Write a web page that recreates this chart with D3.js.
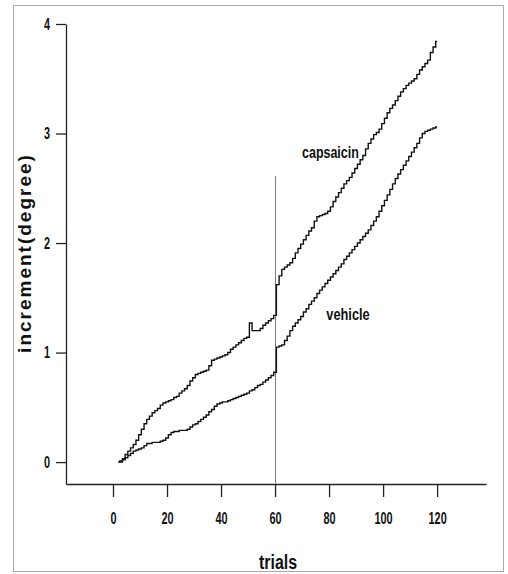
<!DOCTYPE html>
<html>
<head>
<meta charset="utf-8">
<script src="https://cdn.jsdelivr.net/npm/d3@7"></script>
<style>
  body { margin: 0; background: #fff; }
  .tick text { font-family: "Liberation Sans", Arial, sans-serif; font-weight: bold; fill: #111; }
  .lbl { font-family: "Liberation Sans", Arial, sans-serif; fill: #111; }
</style>
</head>
<body>
<svg id="chart" width="508" height="574"></svg>
<script>
// cumulative increment per trial
var trials = d3.range(2, 121);

var capsaicin = [
  0.00, 0.01, 0.03, 0.07, 0.10, 0.13, 0.16, 0.20, 0.25, 0.30,
  0.35, 0.39, 0.42, 0.45, 0.47, 0.49, 0.52, 0.54, 0.55, 0.56,
  0.57, 0.59, 0.60, 0.63, 0.65, 0.67, 0.70, 0.74, 0.77, 0.80,
  0.81, 0.82, 0.83, 0.84, 0.88, 0.93, 0.94, 0.95, 0.96, 0.97,
  0.98, 1.00, 1.03, 1.05, 1.07, 1.09, 1.11, 1.13, 1.14, 1.27,
  1.20, 1.20, 1.20, 1.22, 1.25, 1.27, 1.29, 1.31, 1.34, 1.62,
  1.70, 1.76, 1.78, 1.80, 1.82, 1.86, 1.91, 1.95, 1.99, 2.03,
  2.07, 2.11, 2.14, 2.20, 2.24, 2.25, 2.26, 2.27, 2.29, 2.33,
  2.38, 2.42, 2.46, 2.50, 2.54, 2.57, 2.60, 2.64, 2.68, 2.72,
  2.76, 2.80, 2.86, 2.91, 2.95, 2.99, 3.01, 3.04, 3.09, 3.14,
  3.19, 3.23, 3.26, 3.30, 3.34, 3.38, 3.41, 3.44, 3.46, 3.48,
  3.50, 3.54, 3.58, 3.61, 3.64, 3.67, 3.74, 3.79, 3.84
];

var vehicle = [
  0.00, 0.00, 0.02, 0.04, 0.06, 0.08, 0.10, 0.11, 0.12, 0.13,
  0.15, 0.17, 0.17, 0.18, 0.18, 0.18, 0.19, 0.20, 0.22, 0.25,
  0.27, 0.28, 0.28, 0.29, 0.29, 0.29, 0.30, 0.32, 0.34, 0.35,
  0.37, 0.39, 0.41, 0.43, 0.46, 0.48, 0.51, 0.53, 0.54, 0.55,
  0.55, 0.56, 0.57, 0.58, 0.59, 0.60, 0.61, 0.62, 0.63, 0.65,
  0.66, 0.68, 0.70, 0.71, 0.73, 0.75, 0.77, 0.79, 0.82, 1.05,
  1.06, 1.07, 1.11, 1.15, 1.20, 1.24, 1.27, 1.30, 1.33, 1.37,
  1.40, 1.44, 1.47, 1.50, 1.54, 1.57, 1.60, 1.63, 1.66, 1.69,
  1.72, 1.75, 1.78, 1.81, 1.85, 1.88, 1.91, 1.94, 1.97, 2.00,
  2.03, 2.06, 2.09, 2.12, 2.16, 2.20, 2.24, 2.29, 2.34, 2.39,
  2.44, 2.49, 2.54, 2.59, 2.63, 2.67, 2.71, 2.75, 2.79, 2.83,
  2.87, 2.91, 2.96, 3.00, 3.02, 3.03, 3.04, 3.05, 3.06
];

var xTicks = [0, 20, 40, 60, 80, 100, 120];
var yTicks = [0, 1, 2, 3, 4];
// vertical marker at trial 60
var markerTrial = 60, markerTop = 2.61;

var svg = d3.select("#chart");

var x = d3.scaleLinear().domain([-17.4, 138.1]).range([66, 486]);
var y = d3.scaleLinear().domain([-0.2, 4]).range([484, 24]);

// frame
svg.append("rect")
  .attr("x", 13.5).attr("y", 5.5).attr("width", 490).attr("height", 566)
  .attr("fill", "none").attr("stroke", "#a8a8a8").attr("stroke-width", 1);

// axes
var gy = svg.append("g").attr("transform", "translate(66,0)")
  .call(d3.axisLeft(y).tickValues(yTicks).tickFormat(d3.format("d"))
    .tickSize(10).tickSizeOuter(0).tickPadding(6));
gy.selectAll(".tick text").style("font-size", "16px")
  .attr("transform", "translate(-16,0) scale(0.68,1) translate(16,0)");

var gx = svg.append("g").attr("transform", "translate(0,484)")
  .call(d3.axisBottom(x).tickValues(xTicks).tickFormat(d3.format("d"))
    .tickSize(13).tickSizeOuter(0).tickPadding(16));
gx.selectAll(".tick text").style("font-size", "16px")
  .attr("transform", "scale(0.68,1)");

svg.selectAll(".domain, .tick line").attr("stroke", "#222").attr("stroke-width", 1.3);

// marker line
svg.append("line")
  .attr("x1", x(markerTrial) + 0.5).attr("x2", x(markerTrial) + 0.5)
  .attr("y1", y(markerTop)).attr("y2", y(-0.2))
  .attr("stroke", "#777").attr("stroke-width", 1);

// curves
var line = d3.line()
  .x(function(d, i){ return x(trials[i]); })
  .y(function(d){ return y(d); })
  .curve(d3.curveStep);

[capsaicin, vehicle].forEach(function(s){
  svg.append("path")
    .attr("d", line(s))
    .attr("fill", "none")
    .attr("stroke", "#111")
    .attr("stroke-width", 1.4);
});

// labels (condensed by horizontal scaling)
function label(txt, px, py, size, sx, weight){
  svg.append("text").attr("class", "lbl")
    .attr("transform", "translate(" + px + "," + py + ") scale(" + sx + ",1)")
    .attr("text-anchor", "middle")
    .style("font-size", size + "px").style("font-weight", weight)
    .text(txt);
}

label("capsaicin", x(80.5), y(2.78), 16, 0.78, "bold");
label("vehicle", x(87), y(1.3), 16, 0.8, "bold");
label("trials", 278, 569, 21, 0.76, "bold");

svg.append("text")
  .attr("transform", "translate(31,253) rotate(-90)")
  .attr("text-anchor", "middle")
  .style("font-family", "'Liberation Sans', Arial, sans-serif")
  .style("font-weight", "bold").style("font-size", "19px").style("letter-spacing", "2px")
  .style("fill", "#111")
  .text("increment(degree)");
</script>
</body>
</html>
